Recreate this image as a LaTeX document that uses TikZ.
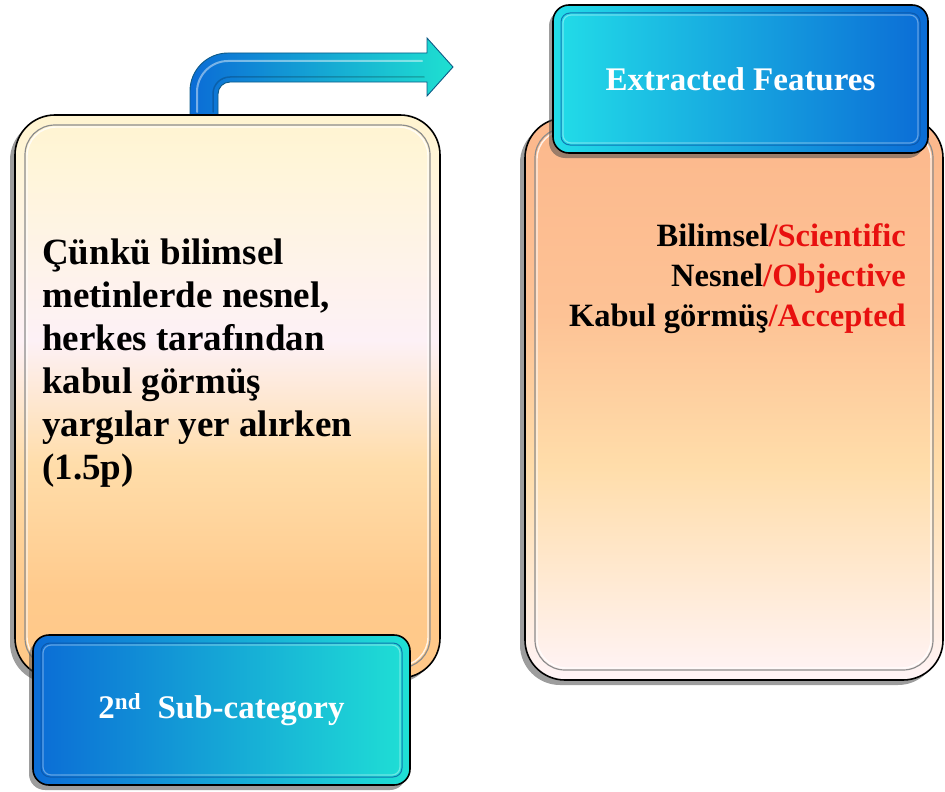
\documentclass[tikz,border=0pt]{standalone}
\usepackage{fontspec}
\setmainfont{Liberation Serif}
\usetikzlibrary{shadows}

\definecolor{deepblue}{HTML}{0B6CD6}
\definecolor{brightcyan}{HTML}{22DDE8}
\definecolor{rimblue}{HTML}{0A4F9E}
\definecolor{arrowedge}{HTML}{0E5A86}
\definecolor{featred}{HTML}{E8100F}

% panel fills: visible band runs from 25bp (bottom) to 75bp (top)
\pgfdeclareverticalshading{creamtoorange}{100bp}{%
  color(0bp)=(rgb,255:red,255;green,200;blue,136);
  color(25bp)=(rgb,255:red,255;green,200;blue,136);
  color(32.5bp)=(rgb,255:red,255;green,202;blue,140);
  color(44bp)=(rgb,255:red,255;green,221;blue,170);
  color(55bp)=(rgb,255:red,253;green,241;blue,246);
  color(70bp)=(rgb,255:red,255;green,245;blue,218);
  color(75bp)=(rgb,255:red,255;green,244;blue,208);
  color(100bp)=(rgb,255:red,255;green,244;blue,208)}
\pgfdeclareverticalshading{salmontoblush}{100bp}{%
  color(0bp)=(rgb,255:red,255;green,244;blue,247);
  color(25bp)=(rgb,255:red,255;green,244;blue,247);
  color(32.5bp)=(rgb,255:red,255;green,235;blue,216);
  color(44bp)=(rgb,255:red,255;green,221;blue,170);
  color(57.5bp)=(rgb,255:red,253;green,194;blue,149);
  color(75bp)=(rgb,255:red,252;green,184;blue,140);
  color(100bp)=(rgb,255:red,252;green,184;blue,140)}

\tikzset{
  panel/.style={draw=black, line width=1.6pt, rounded corners=40pt,
    inner sep=0pt, outer sep=0pt,
    drop shadow={shadow xshift=-5pt, shadow yshift=-5pt, opacity=0.55, fill=black!70}},
  tab/.style={draw=black, line width=1.6pt, rounded corners=16pt,
    inner sep=0pt, outer sep=0pt, text=white,
    font=\fontsize{33}{38}\selectfont\bfseries,
    drop shadow={shadow xshift=-4pt, shadow yshift=-5pt, opacity=0.55, fill=black!70}},
  panelrim/.style={draw=black!45, line width=1.2pt, rounded corners=30pt},
  panelglow/.style={draw=white, line width=1.4pt, opacity=0.8, rounded corners=29pt},
  tabrim/.style={draw=rimblue, line width=1pt, opacity=0.7, rounded corners=9pt},
  tabglow/.style={draw=white, line width=1.2pt, opacity=0.35, rounded corners=8pt},
  bodytext/.style={inner sep=0pt, font=\fontsize{37}{43}\selectfont\bfseries},
  listtext/.style={inner sep=0pt, font=\fontsize{32.5}{40}\selectfont\bfseries}
}

\begin{document}
\begin{tikzpicture}[x=1pt, y=-1pt]
\useasboundingbox (0,0) rectangle (945,792);

% bent arrow rising out of the left panel
\shadedraw[left color=deepblue, right color=brightcyan!90!green, draw=arrowedge, line width=0.9pt]
  (190,130) -- (190,91) .. controls (190,70) and (207,53) .. (228,53) -- (427,53) -- (427,38)
  -- (453,67) -- (427,96) -- (427,82) -- (230,82) .. controls (223.4,82) and (218,87.4) .. (218,94)
  -- (218,130) -- cycle;
\draw[white, line width=2pt, opacity=0.45, line cap=round]
  (197,112) -- (197,92) .. controls (197,75) and (211,61) .. (228,61) -- (422,61);
\draw[black, line width=1.5pt, opacity=0.2, line cap=round]
  (213,112) -- (213,94) .. controls (213,84) and (221,77) .. (230,77) -- (424,77);

% left panel
\node[panel, shading=creamtoorange,
      minimum width=425pt, minimum height=563pt] (leftpanel) at (227.5,396.5) {};
\draw[panelrim] ([xshift=10pt,yshift=-10pt]leftpanel.north west)
  rectangle ([xshift=-10pt,yshift=10pt]leftpanel.south east);
\draw[panelglow] ([xshift=12pt,yshift=-12pt]leftpanel.north west)
  rectangle ([xshift=-12pt,yshift=12pt]leftpanel.south east);

\node[bodytext, anchor=north west, align=left] (reason) at (42,239)
  {Çünkü bilimsel\\metinlerde nesnel,\\herkes tarafından\\kabul görmüş\\yargılar yer alırken\\(1.5p)};

% sub-category tab
\node[tab, left color=deepblue, right color=brightcyan!92!green,
      minimum width=377pt, minimum height=150pt] (subcat) at (221.5,710)
  {2\textsuperscript{nd}\ \ Sub-category};
\draw[tabrim] ([xshift=8pt,yshift=-8pt]subcat.north west)
  rectangle ([xshift=-8pt,yshift=8pt]subcat.south east);
\draw[tabglow] ([xshift=10pt,yshift=-10pt]subcat.north west)
  rectangle ([xshift=-10pt,yshift=10pt]subcat.south east);

% right panel
\node[panel, shading=salmontoblush,
      minimum width=418pt, minimum height=562pt] (rightpanel) at (734,399) {};
\draw[panelrim] ([xshift=10pt,yshift=-10pt]rightpanel.north west)
  rectangle ([xshift=-10pt,yshift=10pt]rightpanel.south east);
\draw[panelglow] ([xshift=12pt,yshift=-12pt]rightpanel.north west)
  rectangle ([xshift=-12pt,yshift=12pt]rightpanel.south east);

\node[listtext, anchor=north east, align=right] (features) at (906,223)
  {Bilimsel\textcolor{featred}{/Scientific}\\
   Nesnel\textcolor{featred}{/Objective}\\
   Kabul görmüş\textcolor{featred}{/Accepted}};

% extracted-features tab
\node[tab, left color=brightcyan, right color=deepblue,
      minimum width=375pt, minimum height=148pt] (extracted) at (740.5,79)
  {Extracted Features};
\draw[tabrim] ([xshift=8pt,yshift=-8pt]extracted.north west)
  rectangle ([xshift=-8pt,yshift=8pt]extracted.south east);
\draw[tabglow] ([xshift=10pt,yshift=-10pt]extracted.north west)
  rectangle ([xshift=-10pt,yshift=10pt]extracted.south east);
\end{tikzpicture}
\end{document}
